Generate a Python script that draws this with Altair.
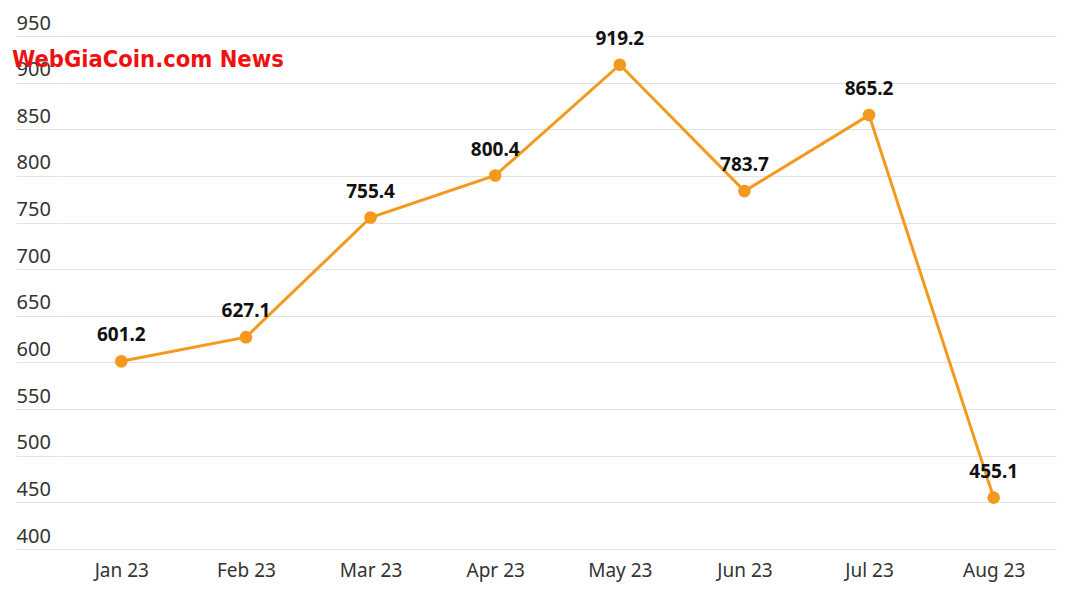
import altair as alt
import pandas as pd

months = ["Jan 23", "Feb 23", "Mar 23", "Apr 23", "May 23", "Jun 23", "Jul 23", "Aug 23"]
values = [601.2, 627.1, 755.4, 800.4, 919.2, 783.7, 865.2, 455.1]
y_ticks = [400, 450, 500, 550, 600, 650, 700, 750, 800, 850, 900, 950]

df = pd.DataFrame({"month": months, "value": values})
df["label"] = [f"{v:.1f}" for v in values]

FONT = "Noto Sans"
ORANGE = "#F39A1E"

x = alt.X("month:N", sort=months, scale=alt.Scale(type="point", padding=0.5),
          axis=alt.Axis(title=None, domain=False, ticks=False, labelAngle=0,
                        labelFontSize=19, labelColor="#333333", labelFont=FONT,
                        labelPadding=12, grid=False))
y = alt.Y("value:Q", scale=alt.Scale(domain=[400, 950], nice=False, zero=False),
          axis=alt.Axis(title=None, values=y_ticks, domain=False, tickSize=43,
                        tickColor="#e2e2e2", tickWidth=1.2, gridColor="#e2e2e2", gridWidth=1.2,
                        labelAlign="left", labelBaseline="alphabetic", labelOffset=-7,
                        labelPadding=0, labelFontSize=20, labelColor="#333333", labelFont=FONT))

base = alt.Chart(df)
line = base.mark_line(color=ORANGE, strokeWidth=3).encode(x=x, y=y)
pts = base.mark_point(filled=True, color=ORANGE, size=160, opacity=1).encode(x=x, y=y)
labels = base.mark_text(fontSize=19, fontWeight="bold", font=FONT, color="#111111",
                        dy=-26, baseline="middle").encode(x=x, y=y, text="label:N")

wm = alt.Chart(pd.DataFrame({"t": ["WebGiaCoin.com News"]})).mark_text(
    font="DejaVu Sans Condensed, DejaVu Sans", fontWeight="bold", fontSize=23.5, color="#EE1111",
    align="left", baseline="middle").encode(x=alt.value(-47), y=alt.value(24), text="t:N")

chart = (line + pts + labels + wm).properties(
    width=997, height=513,
    autosize=alt.AutoSizeParams(type="none"),
    padding={"left": 59, "top": 36, "right": 18, "bottom": 49},
).configure(background="white").configure_view(stroke=None)

chart.save("out.html", embed_options={"renderer": "svg", "actions": False})
